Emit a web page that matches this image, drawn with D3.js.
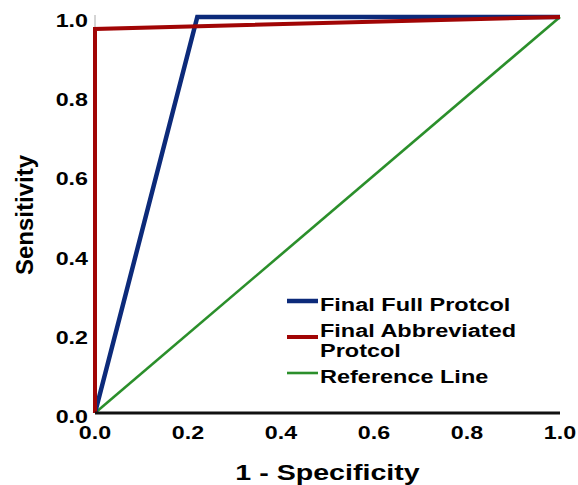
<!DOCTYPE html>
<html>
<head>
<meta charset="utf-8">
<script src="https://cdn.jsdelivr.net/npm/d3@7"></script>
<style>
  body { margin: 0; background: #fff; }
  text { font-family: "Liberation Sans", Arial, sans-serif; font-weight: bold; fill: #000; }
</style>
</head>
<body>
<div id="chart"></div>
<script>
const ticks = [0, 0.2, 0.4, 0.6, 0.8, 1.0];
const fullProtocol = [[0, 0], [0.22, 1], [1, 1]];
const abbrevProtocol = [[0, 0], [0, 0.97], [1, 1]];
const referenceLine = [[0, 0], [1, 1]];
const series = [
  { name: ['Final Full Protcol'], color: '#0c2a7a', width: 4.5, pts: fullProtocol },
  { name: ['Final Abbreviated', 'Protcol'], color: '#a10505', width: 4, pts: abbrevProtocol },
  { name: ['Reference Line'], color: '#2b8f2b', width: 2.6, pts: referenceLine }
];

const W = 578, H = 485, m = { t: 17, r: 18, b: 72, l: 95 };
const svg = d3.select('#chart').append('svg').attr('width', W).attr('height', H);
const x = d3.scaleLinear().domain([0, 1]).range([m.l, W - m.r]);
const y = d3.scaleLinear().domain([0, 1]).range([H - m.b, m.t]);

// the source picture is stretched sideways, so text gets a horizontal scale
const wide = (sel, tx, ty, sx) => sel.attr('transform', `translate(${tx},${ty}) scale(${sx},1)`);

// y axis: thin gray line
svg.append('line').attr('x1', x(0)).attr('x2', x(0)).attr('y1', y(1) - 2).attr('y2', y(0))
  .attr('stroke', '#aaa').attr('stroke-width', 1);
svg.selectAll('text.yt').data(ticks).join('text').attr('class', 'yt')
  .attr('text-anchor', 'end').attr('font-size', 17.5).text(d3.format('.1f'))
  .each(function (d) { wide(d3.select(this), x(0) - 7, y(d) + 10, 1.33); });
svg.selectAll('text.xt').data(ticks).join('text').attr('class', 'xt')
  .attr('text-anchor', 'middle').attr('font-size', 17.5).text(d3.format('.1f'))
  .each(function (d) { wide(d3.select(this), x(d), y(0) + 26, 1.33); });

const line = d3.line().x(d => x(d[0])).y(d => y(d[1]));
// reference first, then full, abbreviated on top
[series[2], series[0], series[1]].forEach(s => svg.append('path').attr('d', line(s.pts))
  .attr('fill', 'none').attr('stroke', s.color).attr('stroke-width', s.width)
  .attr('stroke-linejoin', 'miter'));

// x axis: thick black line
svg.append('line').attr('x1', x(0)).attr('x2', x(1)).attr('y1', y(0)).attr('y2', y(0))
  .attr('stroke', '#111').attr('stroke-width', 3);

// axis titles
svg.append('text').attr('text-anchor', 'middle').attr('font-size', 22).text('1 - Specificity')
  .call(wide, (x(0) + x(1)) / 2, 480, 1.3);
svg.append('text').attr('transform', `translate(33,${(y(0) + y(1)) / 2}) rotate(-90)`)
  .attr('text-anchor', 'middle').attr('font-size', 24).text('Sensitivity');

// legend
const legY = [301, 337, 373];
const legText = [311, 337, 383];
const leg = svg.append('g');
series.forEach((s, i) => {
  leg.append('line').attr('x1', 287).attr('x2', 318).attr('y1', legY[i]).attr('y2', legY[i])
    .attr('stroke', s.color).attr('stroke-width', s.width);
  s.name.forEach((t, j) => leg.append('text').attr('font-size', 18.5).text(t)
    .call(wide, 320, legText[i] + j * 20, 1.27));
});
</script>
</body>
</html>
